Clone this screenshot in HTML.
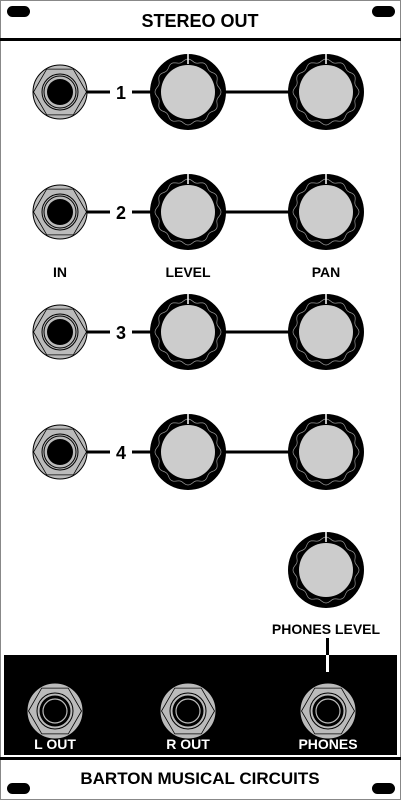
<!DOCTYPE html>
<html><head><meta charset="utf-8"><style>
body{margin:0;background:#fff;width:401px;height:800px;overflow:hidden}
text{font-family:"Liberation Sans",sans-serif;font-weight:bold}
</style></head><body>
<svg width="401" height="800" viewBox="0 0 401 800">
<rect x="0.5" y="0.5" width="400" height="799" fill="#fff" stroke="#888"/>
<rect x="7" y="6" width="23" height="11" rx="5.5" fill="#000"/>
<rect x="372" y="6" width="23" height="11" rx="5.5" fill="#000"/>
<rect x="7" y="783" width="23" height="11" rx="5.5" fill="#000"/>
<rect x="372" y="783" width="23" height="11" rx="5.5" fill="#000"/>
<text x="200" y="27" text-anchor="middle" font-size="18" font-family="Liberation Serif">STEREO OUT</text>
<rect x="0" y="38" width="401" height="3" fill="#000"/>
<rect x="4" y="655" width="393" height="100" fill="#000"/>
<rect x="0" y="757" width="401" height="3" fill="#000"/>
<text x="200" y="784" text-anchor="middle" font-size="17" font-family="Liberation Serif">BARTON MUSICAL CIRCUITS</text>
<g id="g"></g>
<text x="60" y="277" text-anchor="middle" font-size="14">IN</text>
<text x="188" y="277" text-anchor="middle" font-size="14">LEVEL</text>
<text x="326" y="277" text-anchor="middle" font-size="14">PAN</text>
<text x="326" y="634" text-anchor="middle" font-size="14">PHONES LEVEL</text>
<rect x="326" y="638" width="3" height="20" fill="#000"/>
<rect x="326" y="655" width="3" height="17" fill="#fff"/>
<text x="55" y="749" text-anchor="middle" font-size="14" fill="#fff">L OUT</text>
<text x="188" y="749" text-anchor="middle" font-size="14" fill="#fff">R OUT</text>
<text x="328" y="749" text-anchor="middle" font-size="14" fill="#fff">PHONES</text>
</svg>
<script>
const NS="http://www.w3.org/2000/svg",g=document.getElementById('g');
function el(t,a,p){const e=document.createElementNS(NS,t);for(const k in a)e.setAttribute(k,a[k]);(p||g).appendChild(e);return e;}
function hex(cx,cy,r){let s=[];for(let i=0;i<6;i++){const a=Math.PI/3*i;s.push((cx+r*Math.cos(a)).toFixed(1)+','+(cy+r*Math.sin(a)).toFixed(1));}return s.join(' ');}
function jack(cx,cy,name,dark){
 const grp=el('g',{});
 
 
 el('circle',{cx,cy,r:27,fill:'#bbb',stroke:dark?'#bbb':'#000','stroke-width':1},grp);
 el('polygon',{points:hex(cx,cy,26.5),fill:'none',stroke:'#000','stroke-width':0.8},grp);
 el('circle',{cx,cy,r:18,fill:'#bbb',stroke:'#000','stroke-width':1},grp);
 if(dark){el('circle',{cx,cy,r:15.5,fill:'#000'},grp);el('circle',{cx,cy,r:12,fill:'#000',stroke:'#bbb','stroke-width':1.2},grp);}
 else {el('circle',{cx,cy,r:16,fill:'#bbb',stroke:'#000','stroke-width':1},grp);el('circle',{cx,cy,r:13,fill:'#000'},grp);}
}
function knob(cx,cy,name){
 const grp=el('g',{});
 
 
 el('circle',{cx,cy,r:38,fill:'#000'},grp);
 let pts=[];for(let i=0;i<=120;i++){const a=2*Math.PI*i/120;const r=31.5+1.5*Math.cos(a*12);pts.push((cx+r*Math.sin(a)).toFixed(1)+','+(cy-r*Math.cos(a)).toFixed(1));}
 el('polyline',{points:pts.join(' '),fill:'none',stroke:'#999','stroke-width':0.7},grp);
 el('circle',{cx,cy,r:27,fill:'#ccc'},grp);
 el('line',{x1:cx,y1:cy-38,x2:cx,y2:cy-28,stroke:'#fff','stroke-width':1.5},grp);
}
const rows=[92,212,332,452];
rows.forEach((y,i)=>{
 el('line',{x1:85,y1:y,x2:110,y2:y,stroke:'#000','stroke-width':3});
 el('line',{x1:132,y1:y,x2:160,y2:y,stroke:'#000','stroke-width':3});
 el('line',{x1:215,y1:y,x2:300,y2:y,stroke:'#000','stroke-width':3});
 const t=el('text',{x:121,y:y+7,'text-anchor':'middle','font-size':18});t.textContent=String(i+1);
 
 
 jack(60,y,'input-jack-'+(i+1),false);
 knob(188,y,'level-knob-'+(i+1));
 knob(326,y,'pan-knob-'+(i+1));
});
knob(326,570,'phones-level-knob');
jack(55,711,'l-out-jack',true);
jack(188,711,'r-out-jack',true);
jack(328,711,'phones-jack',true);
</script>
</body></html>
